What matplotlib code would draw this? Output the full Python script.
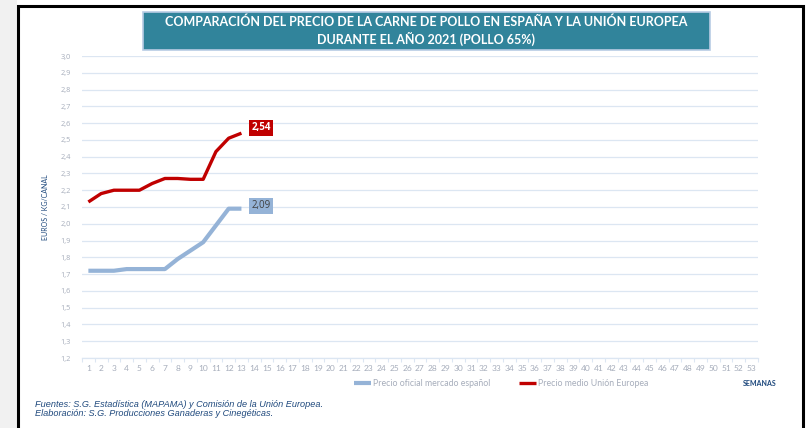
import matplotlib.pyplot as plt
from matplotlib.patches import Rectangle

# data (weeks 1-13 of 2021)
semanas = list(range(1, 14))
precio_espana = [1.72, 1.72, 1.72, 1.73, 1.73, 1.73, 1.73, 1.79, 1.84, 1.89, 1.99, 2.09, 2.09]
precio_ue = [2.13, 2.18, 2.20, 2.20, 2.20, 2.24, 2.27, 2.27, 2.265, 2.265, 2.43, 2.51, 2.54]
etiquetas_x = [str(i) for i in range(1, 54)]
etiquetas_y = [round(1.2 + 0.1 * i, 1) for i in range(19)]

azul = "#95b3d7"
rojo = "#c00000"
gris = "#a6adbb"
rejilla = "#dce6f2"

plt.rcParams["font.family"] = ["Lato", "DejaVu Sans"]

fig = plt.figure(figsize=(8.11, 4.28), dpi=100)

# grey strip on the left and black frame like in the screenshot
fig.patches.append(Rectangle((0, 0), 17 / 811, 1, transform=fig.transFigure,
                             facecolor="#f1f1f1", edgecolor="none", zorder=-2))
fig.patches.append(Rectangle((18 / 811, -0.05), 785 / 811, 1.05 - 6 / 428,
                             transform=fig.transFigure, facecolor="white",
                             edgecolor="black", linewidth=2.2, zorder=-1))

ax = fig.add_axes([82 / 811, 1 - 358 / 428, 676 / 811, 302 / 428])
ax.set_facecolor("none")
ax.set_zorder(2)

ax.plot(semanas, precio_espana, color=azul, linewidth=3, solid_capstyle="butt",
        label="Precio oficial mercado español", zorder=3)
ax.plot(semanas, precio_ue, color=rojo, linewidth=2.4, solid_capstyle="butt",
        label="Precio medio Unión Europea", zorder=3)

ax.set_xlim(0.5, 53.5)
ax.set_ylim(1.2, 3.0)
ax.set_yticks(etiquetas_y)
ax.set_yticklabels([f"{v:.1f}".replace(".", ",") for v in etiquetas_y])
ax.set_xticks(range(1, 54))
ax.set_xticklabels(etiquetas_x)
ax.set_xticks([i + 0.5 for i in range(0, 54)], minor=True)
ax.tick_params(axis="y", length=0, labelsize=6, labelcolor=gris, pad=8)
ax.tick_params(axis="x", which="major", length=0, labelsize=6, labelcolor=gris, pad=5)
ax.tick_params(axis="x", which="minor", length=3, color=rejilla, width=0.8)
for lab in ax.get_yticklabels():
    lab.set_family("Open Sans")
    lab.set_fontsize(5.3)
ax.grid(axis="y", color=rejilla, linewidth=0.9)
for s in ["top", "right", "left"]:
    ax.spines[s].set_visible(False)
ax.spines["bottom"].set_color(rejilla)
ax.spines["bottom"].set_linewidth(0.9)

ax.set_ylabel("EUROS / KG/CANAL", fontsize=5, color="#1f497d", labelpad=8)

# data labels at the last week
ax.annotate(f"{precio_ue[-1]:.2f}".replace(".", ","), (semanas[-1], precio_ue[-1]),
            xytext=(7, 4), textcoords="offset points", fontsize=7, fontweight="bold",
            color="white", va="center", family="Open Sans",
            bbox=dict(boxstyle="square,pad=0.25", facecolor=rojo, edgecolor="none"))
ax.annotate(f"{precio_espana[-1]:.2f}".replace(".", ","), (semanas[-1], precio_espana[-1]),
            xytext=(7, 2), textcoords="offset points", fontsize=7,
            color="#404040", va="center", family="Open Sans",
            bbox=dict(boxstyle="square,pad=0.25", facecolor=azul, edgecolor="none"))

# title box
fig.text(426 / 811, 1 - 31 / 428,
         "COMPARACIÓN DEL PRECIO DE LA CARNE DE POLLO EN ESPAÑA Y LA UNIÓN EUROPEA\n"
         "DURANTE EL AÑO 2021 (POLLO 65%)",
         ha="center", va="center", fontsize=9, fontweight="bold", color="white",
         linespacing=1.3)
fig.patches.append(Rectangle((143 / 811, 1 - 50 / 428), 567 / 811, 38 / 428,
                             transform=fig.transFigure, facecolor="#31849b",
                             edgecolor="#b8cce4", linewidth=1.2, zorder=1))

# legend
fig.legend(loc="center", bbox_to_anchor=(501 / 811, 1 - 384 / 428), ncol=2,
           frameon=False, fontsize=6.3, labelcolor=gris, handlelength=2.0,
           columnspacing=3.2, handletextpad=0.2)

fig.text(760 / 811, 1 - 383 / 428, "SEMANAS", ha="center", va="center",
         fontsize=5, fontweight="bold", color="#1f497d")

fig.text(35 / 811, 1 - 409 / 428,
         "Fuentes: S.G. Estadística (MAPAMA) y Comisión de la Unión Europea.\n"
         "Elaboración: S.G. Producciones Ganaderas y Cinegéticas.",
         ha="left", va="center", fontsize=6.6, style="italic", color="#1f497d",
         family="Liberation Sans", linespacing=1.05)

fig.savefig("out.png", dpi=100)
